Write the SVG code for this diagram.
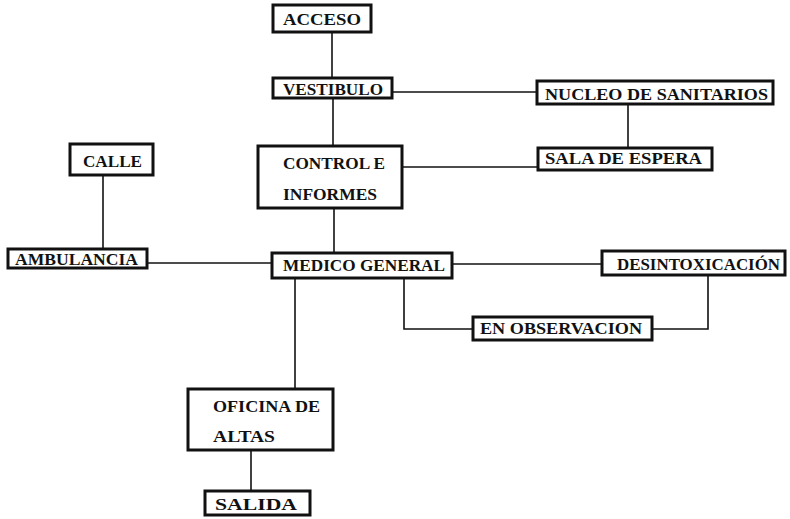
<svg xmlns="http://www.w3.org/2000/svg" width="790" height="519" viewBox="0 0 790 519">
<style>
.box{fill:#fff;stroke:#111;stroke-width:3}
.t{font-family:"Liberation Serif","Times New Roman",serif;font-weight:bold;font-size:17.5px;fill:#111}
.ln{fill:none;stroke:#111;stroke-width:1.6}
</style>
<rect width="790" height="519" fill="#fff"/>
<g id="connectors">
<path class="ln" d="M332 32V78"/>
<path class="ln" d="M392 92H537"/>
<path class="ln" d="M628 104V148"/>
<path class="ln" d="M333 98V146"/>
<path class="ln" d="M402 167H538"/>
<path class="ln" d="M334 208V253"/>
<path class="ln" d="M103 175V249"/>
<path class="ln" d="M147 263H272"/>
<path class="ln" d="M452 264H602"/>
<path class="ln" d="M404 278V329H473"/>
<path class="ln" d="M708 275V329H652"/>
<path class="ln" d="M295 278V389"/>
<path class="ln" d="M251 450V491"/>
</g>
<g id="acceso"><rect class="box" x="273" y="5" width="98" height="27"/><text class="t" x="283" y="25" textLength="78" lengthAdjust="spacingAndGlyphs">ACCESO</text></g>
<g id="vestibulo"><rect class="box" x="273" y="78" width="119" height="20"/><text class="t" x="283" y="95" textLength="100" lengthAdjust="spacingAndGlyphs">VESTIBULO</text></g>
<g id="nucleo"><rect class="box" x="537" y="81" width="236" height="23"/><text class="t" x="545" y="100" textLength="223" lengthAdjust="spacingAndGlyphs">NUCLEO DE SANITARIOS</text></g>
<g id="sala"><rect class="box" x="538" y="148" width="174" height="22"/><text class="t" x="545" y="164" textLength="157" lengthAdjust="spacingAndGlyphs">SALA DE ESPERA</text></g>
<g id="control"><rect class="box" x="258" y="146" width="144" height="62"/><text class="t" x="283" y="169" textLength="102" lengthAdjust="spacingAndGlyphs">CONTROL E</text><text class="t" x="283" y="200" textLength="94" lengthAdjust="spacingAndGlyphs">INFORMES</text></g>
<g id="calle"><rect class="box" x="70" y="144" width="83" height="31"/><text class="t" x="83" y="167" textLength="59" lengthAdjust="spacingAndGlyphs">CALLE</text></g>
<g id="ambulancia"><rect class="box" x="8" y="249" width="139" height="19"/><text class="t" x="15" y="265" textLength="123" lengthAdjust="spacingAndGlyphs">AMBULANCIA</text></g>
<g id="medico"><rect class="box" x="272" y="253" width="180" height="25"/><text class="t" x="283" y="271" textLength="162" lengthAdjust="spacingAndGlyphs">MEDICO GENERAL</text></g>
<g id="desintoxicacion"><rect class="box" x="602" y="251" width="183" height="24"/><text class="t" x="617" y="270" textLength="163" lengthAdjust="spacingAndGlyphs">DESINTOXICACIÓN</text></g>
<g id="observacion"><rect class="box" x="473" y="317" width="179" height="23"/><text class="t" x="480" y="334" textLength="162" lengthAdjust="spacingAndGlyphs">EN OBSERVACION</text></g>
<g id="oficina"><rect class="box" x="188" y="389" width="145" height="61"/><text class="t" x="213" y="412" textLength="107" lengthAdjust="spacingAndGlyphs">OFICINA DE</text><text class="t" x="213" y="442" textLength="62" lengthAdjust="spacingAndGlyphs">ALTAS</text></g>
<g id="salida"><rect class="box" x="205" y="491" width="105" height="24"/><text class="t" x="215" y="510" textLength="82" lengthAdjust="spacingAndGlyphs">SALIDA</text></g>
</svg>
